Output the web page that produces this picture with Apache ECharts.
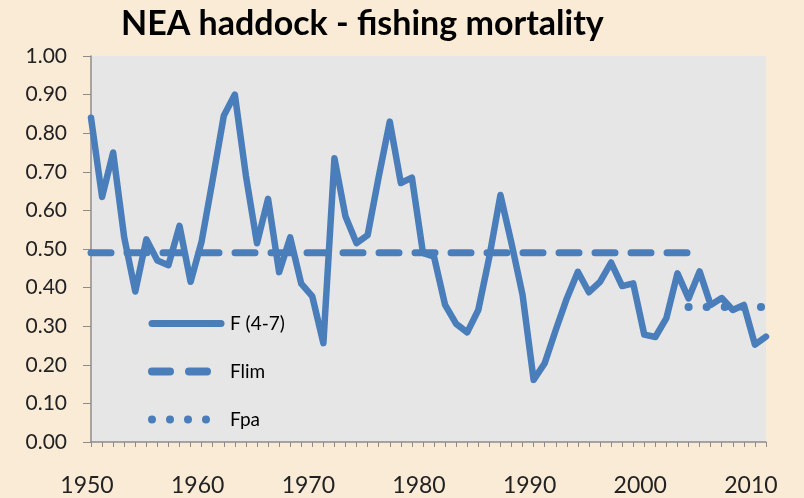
<!DOCTYPE html>
<html>
<head>
<meta charset="utf-8">
<script src="https://cdn.jsdelivr.net/npm/echarts@6/dist/echarts.min.js"></script>
<style>
html,body{margin:0;padding:0;background:#FAEBD7;}
#chart{width:804px;height:498px;}
</style>
</head>
<body>
<div id="chart"></div>
<script>
// Data
const years = [];
for (let y = 1950; y <= 2011; y++) years.push(String(y));
const fValues = [
  0.84, 0.635, 0.75, 0.53, 0.39, 0.525, 0.47, 0.458, 0.56, 0.415,
  0.52, 0.68, 0.845, 0.90, 0.69, 0.515, 0.63, 0.44, 0.53, 0.41,
  0.377, 0.256, 0.735, 0.584, 0.515, 0.536, 0.687, 0.83, 0.671, 0.685,
  0.49, 0.48, 0.355, 0.306, 0.284, 0.342, 0.48, 0.64, 0.515, 0.381,
  0.161, 0.204, 0.29, 0.372, 0.441, 0.388, 0.415, 0.465, 0.404, 0.411,
  0.278, 0.272, 0.321, 0.437, 0.372, 0.442, 0.355, 0.373, 0.342, 0.355,
  0.252, 0.273
];
const flimValue = 0.49;
const flimYears = ['1950', '2004'];
const fpaValue = 0.35;
const fpaYears = ['2004', '2011'];
const yTicks = ['0.00','0.10','0.20','0.30','0.40','0.50','0.60','0.70','0.80','0.90','1.00'];

function refLine(value, range) {
  return years.map(y => (+y >= +range[0] && +y <= +range[1]) ? value : null);
}

const blue = '#4A7EBB';
// legend sample shapes (77 x 8 box)
const iconSolid = 'path://M0 0M77 8M4 0.5L73 0.5A3.5 3.5 0 0 1 73 7.5L4 7.5A3.5 3.5 0 0 1 4 0.5Z';
const iconDash = 'path://M0 0M77 8M4 0L22 0A4 4 0 0 1 22 8L4 8A4 4 0 0 1 4 0ZM41 0L59 0A4 4 0 0 1 59 8L41 8A4 4 0 0 1 41 0Z';
const iconDot = 'path://M0 0M77 8' +
  'M0 4A4 4 0 1 1 8 4A4 4 0 1 1 0 4Z' +
  'M18 4A4 4 0 1 1 26 4A4 4 0 1 1 18 4Z' +
  'M36 4A4 4 0 1 1 44 4A4 4 0 1 1 36 4Z' +
  'M54 4A4 4 0 1 1 62 4A4 4 0 1 1 54 4Z';

const chart = echarts.init(document.getElementById('chart'));
chart.setOption({
  backgroundColor: '#FAEBD7',
  animation: false,
  title: {
    text: 'NEA haddock - fishing mortality',
    left: 116, top: 2,
    textStyle: {fontFamily: 'Lato', fontWeight: 'bold', fontSize: 34, color: '#000'}
  },
  grid: {left: 91, right: 38, top: 56, bottom: 56, show: true, backgroundColor: '#E6E6E6', borderWidth: 0},
  legend: {
    orient: 'vertical', left: 148, top: 314, padding: 0,
    itemWidth: 77, itemHeight: 8, itemGap: 29, symbolKeepAspect: false,
    textStyle: {fontFamily: 'Lato', fontSize: 19, color: '#000'},
    itemStyle: {color: blue, borderWidth: 0},
    data: [
      {name: 'F (4-7)', icon: iconSolid},
      {name: 'Flim', icon: iconDash},
      {name: 'Fpa', icon: iconDot}
    ]
  },
  xAxis: {
    type: 'category', data: years, boundaryGap: false,
    axisLine: {lineStyle: {color: '#8C8C8C', width: 1.5}},
    axisTick: {show: true, interval: 0, length: 5, lineStyle: {color: '#8C8C8C'}},
    axisLabel: {interval: 9, margin: 32, fontFamily: 'Lato', fontSize: 23, color: '#222', padding: [0, 8, 0, 0]},
    splitLine: {show: false}
  },
  yAxis: {
    type: 'value', min: 0, max: 1, interval: 0.1,
    axisLine: {show: true, lineStyle: {color: '#8C8C8C', width: 1.5}},
    axisTick: {show: true, length: 8, lineStyle: {color: '#8C8C8C'}},
    axisLabel: {margin: 24, fontFamily: 'Lato', fontSize: 21, color: '#222',
      formatter: v => yTicks[Math.round(v * 10)]},
    splitLine: {show: false}
  },
  series: [
    {name: 'F (4-7)', type: 'line', data: fValues, symbol: 'none',
     lineStyle: {color: blue, width: 6.5, join: 'round', cap: 'round'}, itemStyle: {color: blue}},
    {name: 'Flim', type: 'line', data: refLine(flimValue, flimYears), symbol: 'none',
     lineStyle: {color: blue, width: 7, type: [20, 16], cap: 'round'}, itemStyle: {color: blue}},
    {name: 'Fpa', type: 'line', data: refLine(fpaValue, fpaYears), symbol: 'none',
     lineStyle: {color: blue, width: 8, type: [0.1, 18], cap: 'round'}, itemStyle: {color: blue}}
  ]
});
</script>
</body>
</html>
